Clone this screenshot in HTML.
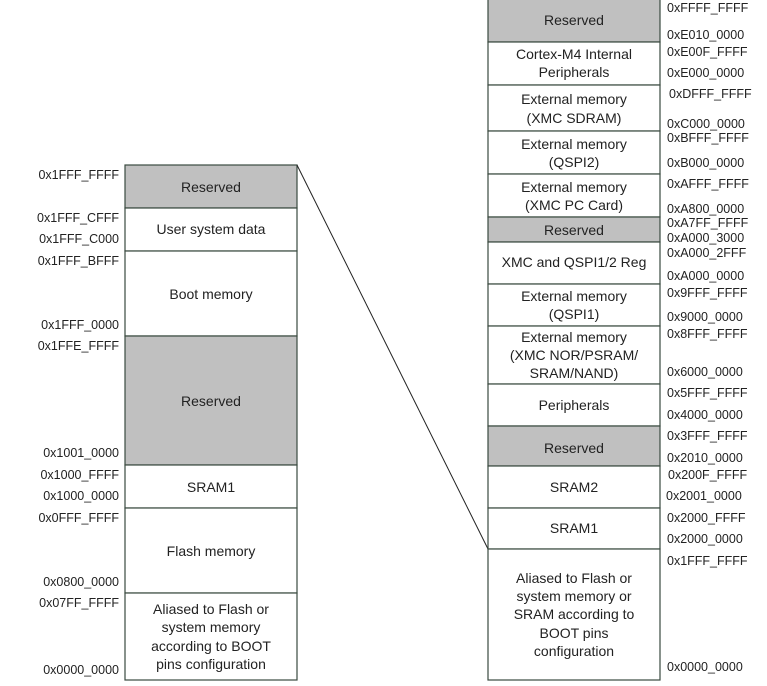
<!DOCTYPE html>
<html><head><style>
html,body{margin:0;padding:0;background:#fff;}
svg{display:block;}
text{font-family:"Liberation Sans",sans-serif;fill:#222;}
.b{font-size:14px;text-anchor:middle;}
.a{font-size:12.5px;}
.l{font-size:12.5px;text-anchor:end;}
rect{stroke:#3a4a40;stroke-width:1.2;}
</style></head><body>
<svg width="767" height="686" viewBox="0 0 767 686" xmlns="http://www.w3.org/2000/svg">
<!-- left column -->
<rect x="125" y="165" width="172" height="43" fill="#c0c0c0"/>
<rect x="125" y="208" width="172" height="43" fill="#fff"/>
<rect x="125" y="251" width="172" height="85" fill="#fff"/>
<rect x="125" y="336" width="172" height="129" fill="#c0c0c0"/>
<rect x="125" y="465" width="172" height="43" fill="#fff"/>
<rect x="125" y="508" width="172" height="85" fill="#fff"/>
<rect x="125" y="593" width="172" height="87" fill="#fff"/>
<text class="b" x="211" y="192">Reserved</text>
<text class="b" x="211" y="234">User system data</text>
<text class="b" x="211" y="299">Boot memory</text>
<text class="b" x="211" y="406">Reserved</text>
<text class="b" x="211" y="492">SRAM1</text>
<text class="b" x="211" y="556">Flash memory</text>
<text class="b" x="211" y="614">Aliased to Flash or</text>
<text class="b" x="211" y="632">system memory</text>
<text class="b" x="211" y="651">according to BOOT</text>
<text class="b" x="211" y="669">pins configuration</text>
<g class="l">
<text class="l" x="119" y="179">0x1FFF_FFFF</text>
<text class="l" x="119" y="222">0x1FFF_CFFF</text>
<text class="l" x="119" y="243">0x1FFF_C000</text>
<text class="l" x="119" y="265">0x1FFF_BFFF</text>
<text class="l" x="119" y="329">0x1FFF_0000</text>
<text class="l" x="119" y="350">0x1FFE_FFFF</text>
<text class="l" x="119" y="457">0x1001_0000</text>
<text class="l" x="119" y="479">0x1000_FFFF</text>
<text class="l" x="119" y="500">0x1000_0000</text>
<text class="l" x="119" y="522">0x0FFF_FFFF</text>
<text class="l" x="119" y="586">0x0800_0000</text>
<text class="l" x="119" y="607">0x07FF_FFFF</text>
<text class="l" x="119" y="674">0x0000_0000</text>
</g>
<!-- connector -->
<line x1="297" y1="165" x2="488" y2="549" stroke="#222" stroke-width="1"/>
<!-- right column -->
<rect x="488" y="-2" width="172" height="44" fill="#c0c0c0"/>
<rect x="488" y="42" width="172" height="43" fill="#fff"/>
<rect x="488" y="85" width="172" height="46" fill="#fff"/>
<rect x="488" y="131" width="172" height="43" fill="#fff"/>
<rect x="488" y="174" width="172" height="43" fill="#fff"/>
<rect x="488" y="217" width="172" height="25" fill="#c0c0c0"/>
<rect x="488" y="242" width="172" height="42" fill="#fff"/>
<rect x="488" y="284" width="172" height="42" fill="#fff"/>
<rect x="488" y="326" width="172" height="58" fill="#fff"/>
<rect x="488" y="384" width="172" height="42" fill="#fff"/>
<rect x="488" y="426" width="172" height="40" fill="#c0c0c0"/>
<rect x="488" y="466" width="172" height="42" fill="#fff"/>
<rect x="488" y="508" width="172" height="41" fill="#fff"/>
<rect x="488" y="549" width="172" height="131" fill="#fff"/>
<text class="b" x="574" y="25">Reserved</text>
<text class="b" x="574" y="59">Cortex-M4 Internal</text>
<text class="b" x="574" y="77">Peripherals</text>
<text class="b" x="574" y="104">External memory</text>
<text class="b" x="574" y="123">(XMC SDRAM)</text>
<text class="b" x="574" y="149">External memory</text>
<text class="b" x="574" y="167">(QSPI2)</text>
<text class="b" x="574" y="192">External memory</text>
<text class="b" x="574" y="210">(XMC PC Card)</text>
<text class="b" x="574" y="235">Reserved</text>
<text class="b" x="574" y="267">XMC and QSPI1/2 Reg</text>
<text class="b" x="574" y="301">External memory</text>
<text class="b" x="574" y="319">(QSPI1)</text>
<text class="b" x="574" y="342">External memory</text>
<text class="b" x="574" y="360">(XMC NOR/PSRAM/</text>
<text class="b" x="574" y="378">SRAM/NAND)</text>
<text class="b" x="574" y="410">Peripherals</text>
<text class="b" x="574" y="453">Reserved</text>
<text class="b" x="574" y="492">SRAM2</text>
<text class="b" x="574" y="533">SRAM1</text>
<text class="b" x="574" y="583">Aliased to Flash or</text>
<text class="b" x="574" y="601">system memory or</text>
<text class="b" x="574" y="619">SRAM according to</text>
<text class="b" x="574" y="638">BOOT pins</text>
<text class="b" x="574" y="656">configuration</text>
<text class="a" x="667" y="12">0xFFFF_FFFF</text>
<text class="a" x="667" y="39">0xE010_0000</text>
<text class="a" x="667" y="56">0xE00F_FFFF</text>
<text class="a" x="667" y="77">0xE000_0000</text>
<text class="a" x="669" y="98">0xDFFF_FFFF</text>
<text class="a" x="667" y="128">0xC000_0000</text>
<text class="a" x="667" y="142">0xBFFF_FFFF</text>
<text class="a" x="667" y="167">0xB000_0000</text>
<text class="a" x="667" y="188">0xAFFF_FFFF</text>
<text class="a" x="667" y="213">0xA800_0000</text>
<text class="a" x="667" y="227">0xA7FF_FFFF</text>
<text class="a" x="667" y="242">0xA000_3000</text>
<text class="a" x="667" y="257">0xA000_2FFF</text>
<text class="a" x="667" y="280">0xA000_0000</text>
<text class="a" x="667" y="297">0x9FFF_FFFF</text>
<text class="a" x="667" y="321">0x9000_0000</text>
<text class="a" x="667" y="338">0x8FFF_FFFF</text>
<text class="a" x="667" y="376">0x6000_0000</text>
<text class="a" x="667" y="397">0x5FFF_FFFF</text>
<text class="a" x="667" y="419">0x4000_0000</text>
<text class="a" x="667" y="440">0x3FFF_FFFF</text>
<text class="a" x="667" y="462">0x2010_0000</text>
<text class="a" x="668" y="479">0x200F_FFFF</text>
<text class="a" x="666" y="500">0x2001_0000</text>
<text class="a" x="667" y="522">0x2000_FFFF</text>
<text class="a" x="667" y="543">0x2000_0000</text>
<text class="a" x="667" y="565">0x1FFF_FFFF</text>
<text class="a" x="667" y="671">0x0000_0000</text>
</svg>
</body></html>
